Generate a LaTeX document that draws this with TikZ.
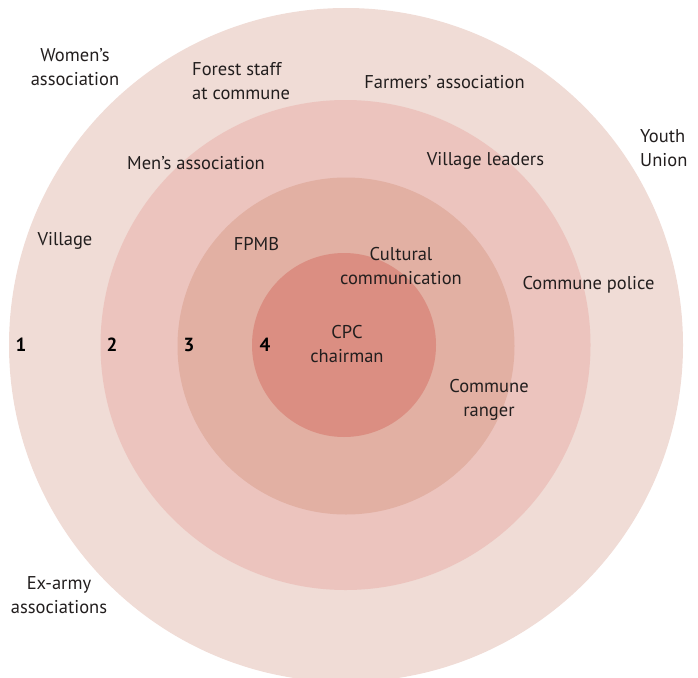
\documentclass[tikz,border=0pt]{standalone}
\usepackage{fontspec}
\setmainfont{PT Sans}
\definecolor{ringA}{RGB}{240,220,214}
\definecolor{ringB}{RGB}{236,196,190}
\definecolor{ringC}{RGB}{226,176,163}
\definecolor{ringD}{RGB}{219,142,130}
\definecolor{inkgray}{RGB}{34,30,30}
\tikzset{
	lbl/.style={inner sep=0pt, text=inkgray, align=center, font=\fontsize{18.5}{24}\selectfont},
	lblL/.style={lbl, align=left, anchor=west},
	num/.style={inner sep=0pt, text=black, font=\fontsize{19}{22}\selectfont\bfseries},
}
\begin{document}
\begin{tikzpicture}[x=1pt, y=-1pt]
		%%%%% START %%%%%
		\useasboundingbox (0, 0) rectangle (698, 677);
		
		\fill[ringA] (346, 345) circle (337);
		\fill[ringB] (345.5, 345) circle (245);
		\fill[ringC] (346, 346) circle (168.5);
		\fill[ringD] (344, 345) circle (92);
		
		\node[num] (n1) at (21, 344.5) {1};
		\node[num] (n2) at (112, 344.5) {2};
		\node[num] (n3) at (189, 344.5) {3};
		\node[num] (n4) at (265, 344.5) {4};
		
		\node[lbl] (women) at (75, 67) {Women’s\\association};
		\node[lblL] (forest) at (192, 81) {Forest staff\\at commune};
		\node[lbl] (farmers) at (444.5, 82.5) {Farmers’ association};
		\node[lblL] (youth) at (640, 148) {Youth\\Union};
		\node[lbl] (men) at (196, 163.5) {Men’s association};
		\node[lbl] (vleaders) at (485.5, 160.5) {Village leaders};
		\node[lbl] (village) at (65, 240.5) {Village};
		\node[lbl] (fpmb) at (256.5, 244) {FPMB};
		\node[lbl] (cultural) at (401, 266) {Cultural\\communication};
		\node[lbl] (police) at (588.5, 284.5) {Commune police};
		\node[lbl] (cpc) at (347, 344) {CPC\\chairman};
		\node[lbl] (ranger) at (489, 400) {Commune\\ranger};
		\node[lbl] (exarmy) at (59, 595) {Ex-army\\associations};
		
		%%%%% END %%%%%
	\end{tikzpicture}
\end{document}
